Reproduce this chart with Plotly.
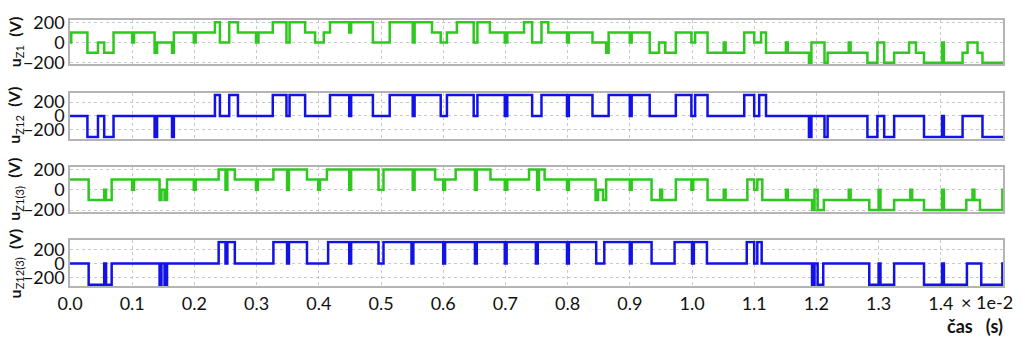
import plotly.graph_objects as go

# time in units of 1e-2 s; each value holds from its time until the next one
t_z1 = [0, 0.002, 0.028, 0.045, 0.055, 0.070, 0.100, 0.103, 0.136, 0.140, 0.164, 0.167, 0.199, 0.202,
        0.233, 0.241, 0.256, 0.270, 0.299, 0.303, 0.326, 0.348, 0.353, 0.378, 0.394, 0.408, 0.418,
        0.449, 0.452, 0.487, 0.514, 0.551, 0.554, 0.582, 0.596, 0.606, 0.622, 0.649, 0.655, 0.675,
        0.699, 0.703, 0.730, 0.743, 0.758, 0.769, 0.799, 0.802, 0.840, 0.862, 0.866, 0.900, 0.903,
        0.932, 0.947, 0.957, 0.974, 0.999, 1.005, 1.025, 1.051, 1.054, 1.084, 1.100, 1.111, 1.119,
        1.151, 1.154, 1.188, 1.192, 1.213, 1.218, 1.252, 1.255, 1.282, 1.298, 1.309, 1.325, 1.349,
        1.360, 1.373, 1.402, 1.405, 1.435, 1.443, 1.459, 1.467, 1.5]
u_z1 = [0, 100, -100, 0, -100, 100, 0, 100, -100, 0, -100, 100, 0, 100,
        200, 0, 200, 100, 0, 100, 200, 0, 200, 100, 0, 100, 200,
        100, 200, 0, 200, 0, 200, 100, 0, 100, 200, 0, 200, 100,
        0, 100, 200, 0, 200, 100, 0, 100, 0, -100, 100, 0, 100,
        -100, 0, -100, 100, 0, 100, -100, 0, -100, 100, 0, 100, -100,
        0, -100, -200, 0, -200, -100, 0, -100, -200, 0, -200, -100, 0,
        -100, -200, 0, -200, -100, 0, -100, -200, -200]

t_z12 = [0, 0.028, 0.045, 0.055, 0.070, 0.136, 0.140, 0.164, 0.167, 0.233, 0.241, 0.256, 0.270,
         0.326, 0.348, 0.353, 0.378, 0.418, 0.449, 0.452, 0.487, 0.514, 0.551, 0.554, 0.596, 0.606,
         0.649, 0.655, 0.699, 0.703, 0.743, 0.758, 0.799, 0.802, 0.840, 0.866, 0.900, 0.903, 0.932,
         0.974, 0.999, 1.005, 1.025, 1.084, 1.100, 1.108, 1.119, 1.188, 1.192, 1.213, 1.218, 1.282,
         1.298, 1.309, 1.325, 1.373, 1.402, 1.405, 1.435, 1.467, 1.5]
u_z12 = [0, -300, 0, -300, 0, -300, 0, -300, 0, 300, 0, 300, 0,
         300, 0, 300, 0, 300, 0, 300, 0, 300, 0, 300, 0, 300,
         0, 300, 0, 300, 0, 300, 0, 300, 0, 300, 0, 300, 0,
         300, 0, 300, 0, 300, 0, 300, 0, -300, 0, -300, 0, -300,
         0, -300, 0, -300, 0, -300, 0, -300, -300]

t_z1_3 = [0, 0.030, 0.055, 0.058, 0.067, 0.100, 0.103, 0.144, 0.147, 0.152, 0.156, 0.199, 0.202,
          0.239, 0.250, 0.253, 0.265, 0.299, 0.302, 0.327, 0.349, 0.352, 0.381, 0.399, 0.402, 0.413,
          0.449, 0.452, 0.496, 0.504, 0.551, 0.554, 0.587, 0.600, 0.603, 0.620, 0.651, 0.654, 0.676,
          0.699, 0.703, 0.738, 0.751, 0.754, 0.763, 0.799, 0.802, 0.845, 0.849, 0.857, 0.862, 0.900,
          0.903, 0.935, 0.949, 0.952, 0.974, 0.999, 1.002, 1.025, 1.051, 1.054, 1.089, 1.100, 1.105,
          1.113, 1.151, 1.154, 1.193, 1.197, 1.202, 1.212, 1.252, 1.255, 1.285, 1.300, 1.303, 1.325,
          1.351, 1.354, 1.373, 1.402, 1.405, 1.441, 1.451, 1.454, 1.463, 1.499, 1.5]
u_z1_3 = [100, -100, 0, -100, 100, 0, 100, -100, 0, -100, 100, 0, 100,
          200, 0, 200, 100, 0, 100, 200, 0, 200, 100, 0, 100, 200,
          0, 200, 0, 200, 0, 200, 100, 0, 100, 200, 0, 200, 100,
          0, 100, 200, 0, 200, 100, 0, 100, -100, 0, -100, 100, 0,
          100, -100, 0, -100, 100, 0, 100, -100, 0, -100, 100, 0, 100,
          -100, 0, -100, -200, 0, -200, -100, 0, -100, -200, 0, -200, -100,
          0, -100, -200, 0, -200, -100, 0, -100, -200, 0, 0]

t_z12_3 = [0, 0.030, 0.055, 0.058, 0.067, 0.144, 0.147, 0.152, 0.156, 0.239, 0.250, 0.253, 0.265,
           0.327, 0.349, 0.352, 0.381, 0.415, 0.449, 0.452, 0.496, 0.504, 0.549, 0.552, 0.600, 0.603,
           0.651, 0.654, 0.699, 0.702, 0.749, 0.752, 0.799, 0.802, 0.846, 0.859, 0.900, 0.903, 0.935,
           0.972, 1.000, 1.003, 1.024, 1.088, 1.100, 1.105, 1.112, 1.193, 1.197, 1.202, 1.211, 1.285,
           1.300, 1.303, 1.325, 1.373, 1.402, 1.405, 1.442, 1.465, 1.499, 1.5]
u_z12_3 = [0, -300, 0, -300, 0, -300, 0, -300, 0, 300, 0, 300, 0,
           300, 0, 300, 0, 300, 0, 300, 0, 300, 0, 300, 0, 300,
           0, 300, 0, 300, 0, 300, 0, 300, 0, 300, 0, 300, 0,
           300, 0, 300, 0, 300, 0, 300, 0, -300, 0, -300, 0, -300,
           0, -300, 0, -300, 0, -300, 0, -300, 0, 0]

y_ticks = [-200, 0, 200]
x_ticks = [0.0, 0.1, 0.2, 0.3, 0.4, 0.5, 0.6, 0.7, 0.8, 0.9, 1.0, 1.1, 1.2, 1.3, 1.4]
labels = ["<b>u</b><sub>Z1</sub>  <b>(V)</b>", "<b>u</b><sub>Z12</sub>  <b>(V)</b>",
          "<b>u</b><sub>Z1(3)</sub>  <b>(V)</b>", "<b>u</b><sub>Z12(3)</sub>  <b>(V)</b>"]

GREEN = "#2ec81e"
BLUE = "#1212e6"
W, H = 1023, 351
series = [(t_z1, u_z1, GREEN), (t_z12, u_z12, BLUE), (t_z1_3, u_z1_3, GREEN), (t_z12_3, u_z12_3, BLUE)]
# panel pixel extents (top, bottom) and y ranges
panels = [(11.7, 58.3, [-215, 222]), (88.3, 136.7, [-325, 332]),
          (166.7, 214.3, [-222, 222]), (244.0, 292.3, [-322, 323])]

fig = go.Figure()
FONT = "Lato"
for i, ((t, v, c), (top, bot, yr)) in enumerate(zip(series, panels)):
    n = i + 1
    xa = "x" if n == 1 else f"x{n}"
    ya = "y" if n == 1 else f"y{n}"
    fig.add_trace(go.Scatter(x=t, y=v, mode="lines", line=dict(color=c, width=2.5, shape="hv"),
                             xaxis=xa, yaxis=ya, showlegend=False, hoverinfo="skip"))
    xkey = "xaxis" if n == 1 else f"xaxis{n}"
    ykey = "yaxis" if n == 1 else f"yaxis{n}"
    fig.update_layout(**{
        xkey: dict(domain=[0, 1], range=[0, 1.5], anchor=ya, tickvals=x_ticks,
                   ticktext=[f"{x:.1f}" for x in x_ticks], showticklabels=(n == 4),
                   showgrid=True, gridcolor="#c8c8c8", griddash="dot", gridwidth=1,
                   showline=True, mirror=True, linecolor="#b4b4b4", linewidth=1.5,
                   ticks="", zeroline=False, tickfont=dict(family=FONT, size=18, color="#111")),
        ykey: dict(domain=[1 - bot / H, 1 - top / H], range=yr, anchor=xa, tickvals=y_ticks,
                   showgrid=True, gridcolor="#c8c8c8", griddash="dot", gridwidth=1,
                   showline=True, mirror=True, linecolor="#b4b4b4", linewidth=1.5,
                   ticks="", zeroline=False, tickfont=dict(family=FONT, size=18, color="#111")),
    })
    fig.add_annotation(text=labels[i], textangle=-90, xref="paper", yref="paper",
                       x=(15 - 70) / 933, y=1 - ((top + bot) / 2) / H, showarrow=False,
                       xanchor="center", yanchor="middle",
                       font=dict(family=FONT, size=16, color="#111"))

fig.add_annotation(text="× 1e-2", xref="paper", yref="paper", x=(987 - 70) / 933, y=1 - 309 / H,
                   showarrow=False, xanchor="center", yanchor="middle",
                   font=dict(family=FONT, size=18, color="#111"))
fig.add_annotation(text="<b>čas   (s)</b>", xref="paper", yref="paper", x=(975 - 70) / 933, y=1 - 334 / H,
                   showarrow=False, xanchor="center", yanchor="middle",
                   font=dict(family=FONT, size=18, color="#111"))

fig.update_layout(width=W, height=H, margin=dict(l=70, r=20, t=0, b=0),
                  paper_bgcolor="white", plot_bgcolor="white")
fig.write_html("out.html")
